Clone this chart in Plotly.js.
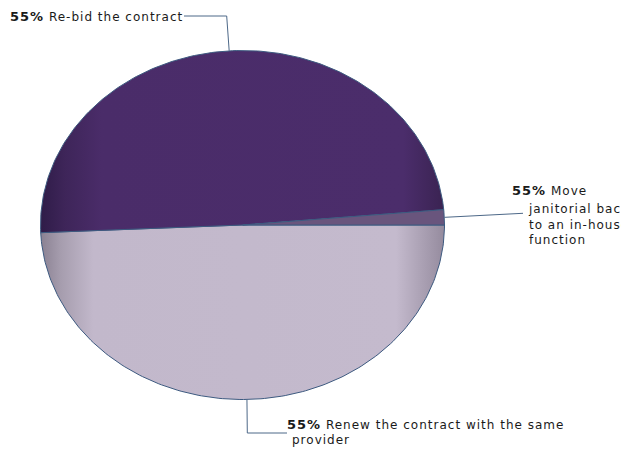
<!DOCTYPE html>
<html>
<head>
<meta charset="utf-8">
<script src="https://cdn.plot.ly/plotly-3.0.1.min.js"></script>
<style>
  html, body { margin: 0; padding: 0; background: #fff; }
  #chart { width: 621px; height: 450px; }
  .annotation-text { letter-spacing: 1px; }
</style>
</head>
<body>
<div id="chart"></div>
<script>
// ---- Data (clockwise from 3 o'clock) ----
const categories = ['Renew the contract with the same provider', 'Re-bid the contract', 'Move janitorial back to an in-house function'];
const shares = [49.3, 49.3, 1.4];
const pctLabels = ['55%', '55%', '55%'];

// ---- Styles ----
const W = 621, H = 450;
const CX = 242.5, CY = 225, RX = 202, RY = 174.5;   // ellipse in pixels
const outline = '#3d5a80';
const leaderColor = '#4d6888';
const fills = [
  {type: 'horizontal', colorscale: [[0, '#8a8192'], [0.05, '#a69dae'], [0.13, '#c2b8cb'], [0.88, '#c4bacd'], [1, '#958b9e']]},
  {type: 'horizontal', colorscale: [[0, '#2f1c48'], [0.06, '#3e2559'], [0.15, '#4a2c69'], [0.9, '#4b2d6b'], [1, '#3a2352']]},
  null
];
const plainFill = ['#c4bacd', '#4b2d6b', '#69557d'];

const px2x = p => (p - CX) / RX;
const py2y = p => (CY - p) / RY;

const total = shares.reduce((a, b) => a + b, 0);
const traces = [];
const mids = [];
let cum = 0;
shares.forEach((v, i) => {
  const a0 = cum / total * 2 * Math.PI;
  const a1 = (cum + v) / total * 2 * Math.PI;
  cum += v;
  const xs = [0], ys = [0];
  const n = Math.max(4, Math.ceil((a1 - a0) / (Math.PI / 180)));
  for (let k = 0; k <= n; k++) {
    const a = a0 + (a1 - a0) * k / n;   // clockwise angle
    xs.push(Math.cos(-a)); ys.push(Math.sin(-a));
  }
  xs.push(0); ys.push(0);
  const am = (a0 + a1) / 2;
  mids.push([Math.cos(-am), Math.sin(-am)]);
  const t = {
    type: 'scatter', mode: 'lines', x: xs, y: ys, fill: 'toself',
    fillcolor: plainFill[i],
    line: {color: outline, width: 1},
    name: categories[i], hoverinfo: 'name', showlegend: false
  };
  if (fills[i]) t.fillgradient = fills[i];
  traces.push(t);
});

// leader lines: from slice mid-point on the rim to label
const leaderEnds = [
  [[247.3, 433], [287, 433]],
  [[226.7, 16], [184, 16]],
  [[474, 215.7], [523, 213.3]]
];
leaderEnds.forEach((pts, i) => {
  traces.push({
    type: 'scatter', mode: 'lines',
    x: [mids[i][0]].concat(pts.map(p => px2x(p[0]))),
    y: [mids[i][1]].concat(pts.map(p => py2y(p[1]))),
    line: {color: leaderColor, width: 1},
    hoverinfo: 'skip', showlegend: false
  });
});

const font = {family: 'DejaVu Sans, Verdana, sans-serif', size: 12, color: '#1a1a1a'};
const pct = s => '<b><span style="font-size:13px">' + s + '</span></b>';
function ann(text, px, py) {
  return {text: text, xref: 'paper', yref: 'paper', x: px / W, y: 1 - py / H,
          xanchor: 'left', yanchor: 'middle', align: 'left', showarrow: false, font: font};
}
const annotations = [
  ann(pct(pctLabels[1]) + ' Re-bid the contract', 8, 16),
  ann(pct(pctLabels[2]) + ' Move', 510, 190),
  ann('janitorial back<br>to an in-house<br>function', 526, 224),
  ann(pct(pctLabels[0]) + ' Renew the contract with the same', 285, 424),
  ann('provider', 290, 440)
];

const layout = {
  width: W, height: H,
  margin: {l: 0, r: 0, t: 0, b: 0},
  paper_bgcolor: '#ffffff', plot_bgcolor: '#ffffff',
  xaxis: {visible: false, range: [px2x(0), px2x(W)], fixedrange: true},
  yaxis: {visible: false, range: [py2y(H), py2y(0)], fixedrange: true},
  annotations: annotations,
  showlegend: false
};

Plotly.newPlot('chart', traces, layout, {displayModeBar: false, staticPlot: true});
</script>
</body>
</html>
